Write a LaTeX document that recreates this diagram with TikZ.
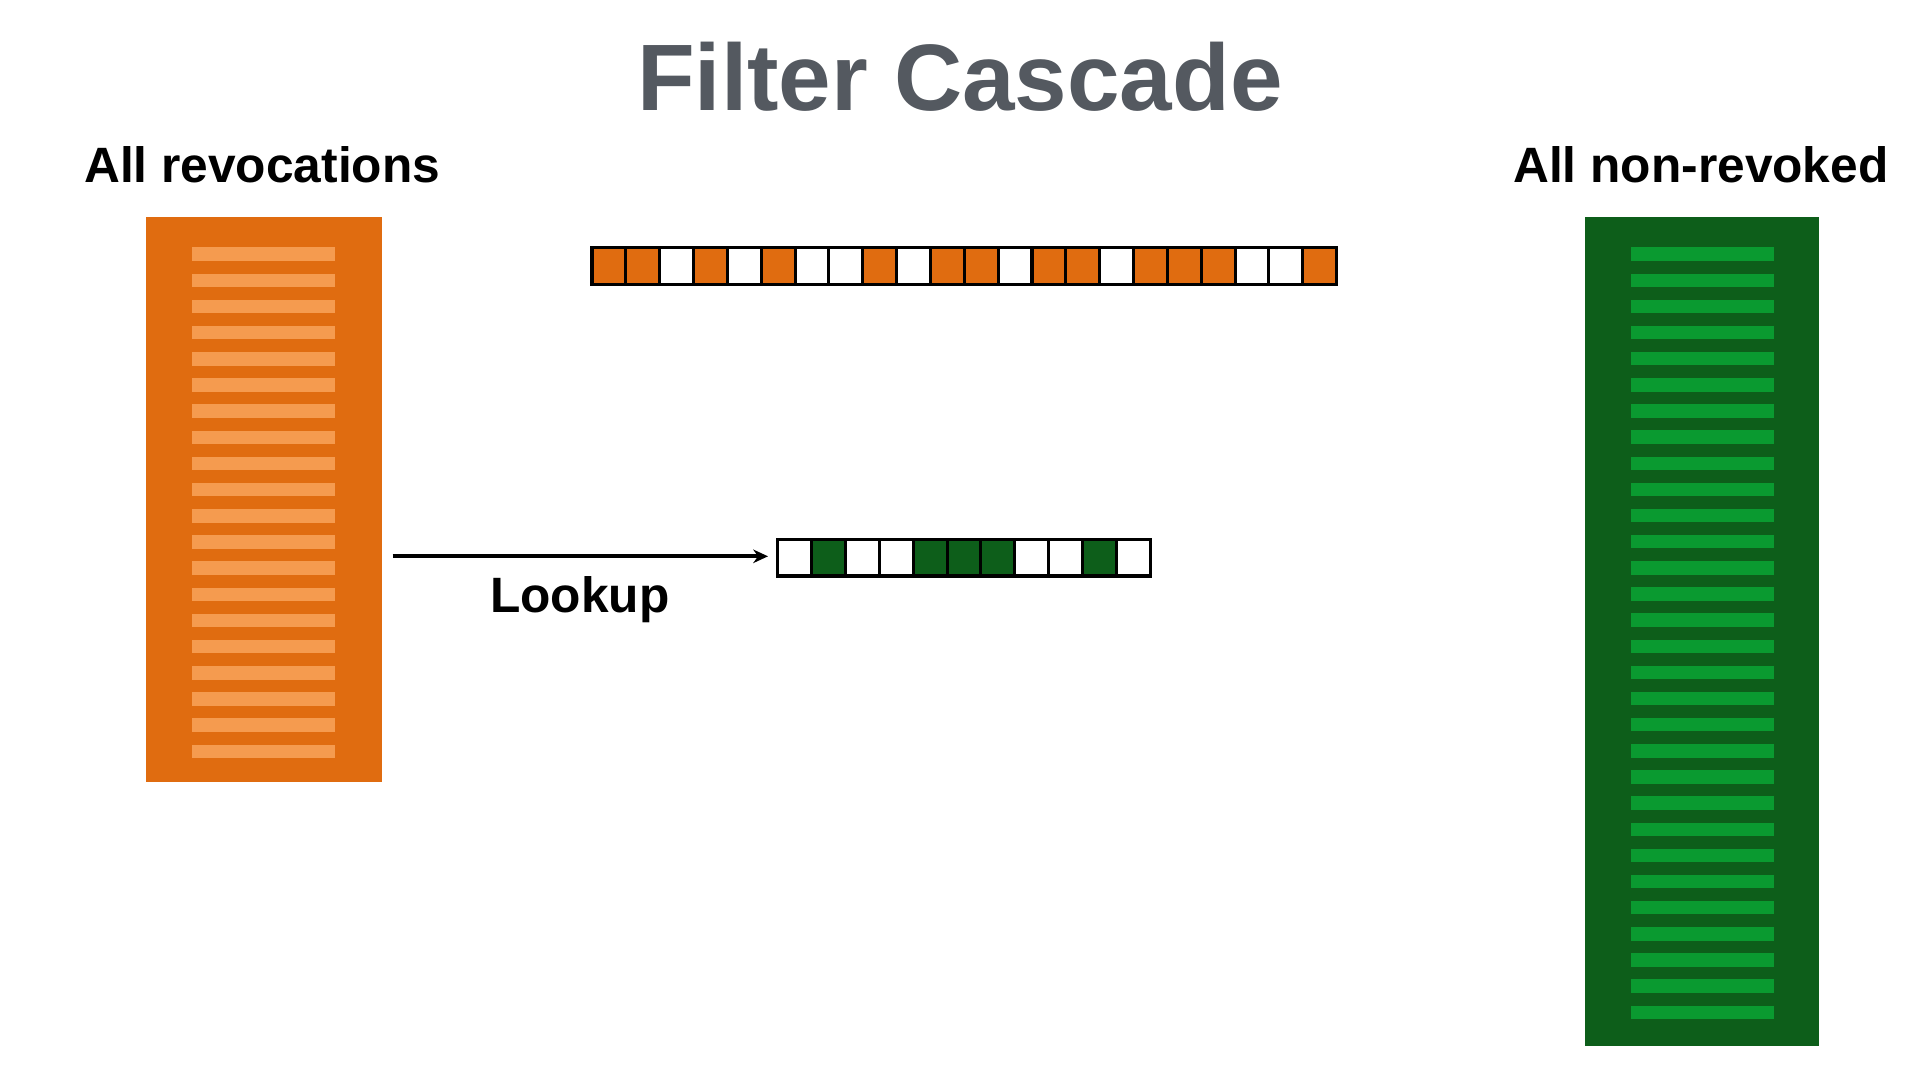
\documentclass[tikz,border=0pt]{standalone}
\usepackage{fontspec}
\setmainfont{Liberation Sans}
\usetikzlibrary{arrows.meta}
\definecolor{ttl}{HTML}{545960}
\definecolor{org}{HTML}{E06C10}
\definecolor{lorg}{HTML}{F59B4F}
\definecolor{dgr}{HTML}{0D5E1A}
\definecolor{lgr}{HTML}{0A9A30}
\tikzset{lbl/.style={font=\bfseries\fontsize{40.5}{46}\selectfont},
cellbox/.style={draw=black,line width=2.5bp}}
\begin{document}
\begin{tikzpicture}[x=1bp,y=-1bp]
\useasboundingbox (0,0) rectangle (1560,878);
\node[font=\bfseries\fontsize{77}{84}\selectfont,text=ttl] (title) at (780,62) {Filter Cascade};
\node[lbl] (l1) at (213,134) {All revocations};
\node[lbl] (l2) at (1382,134) {All non-revoked};
% left box
\fill[org] (119,176) rectangle (310,635);
\coordinate (lbox) at (310,452);
\foreach \i in {0,...,19} \fill[lorg] (156,{201+21.26*\i}) rectangle (272,{212+21.26*\i});
% right box
\fill[dgr] (1288,176) rectangle (1478,850);
\foreach \i in {0,...,29} \fill[lgr] (1325,{201+21.24*\i}) rectangle (1441,{212+21.24*\i});
% top bar
\foreach \c [count=\i from 0] in {1,1,0,1,0,1,0,0,1,0,1,1,0,1,1,0,1,1,1,0,0,1}{
  \ifnum\c=1 \fill[org] ({481+27.5*\i},201) rectangle ({481+27.5*(\i+1)},231);\fi
  \draw[cellbox] ({481+27.5*\i},201) rectangle ({481+27.5*(\i+1)},231);}
% lower bar
\foreach \c [count=\i from 0] in {0,1,0,0,1,1,1,0,0,1,0}{
  \ifnum\c=1 \fill[dgr] ({632+27.5*\i},438) rectangle ({632+27.5*(\i+1)},468);\fi
  \draw[cellbox] ({632+27.5*\i},438) rectangle ({632+27.5*(\i+1)},468);}
\coordinate (lbar) at (624,452);
\coordinate (astart) at (319,452);
\draw[line width=3bp,-{Stealth[length=12bp,width=11bp]}] (astart) -- (lbar);
\node[lbl] (lookup) at (471,487) {Lookup};
\end{tikzpicture}
\end{document}
